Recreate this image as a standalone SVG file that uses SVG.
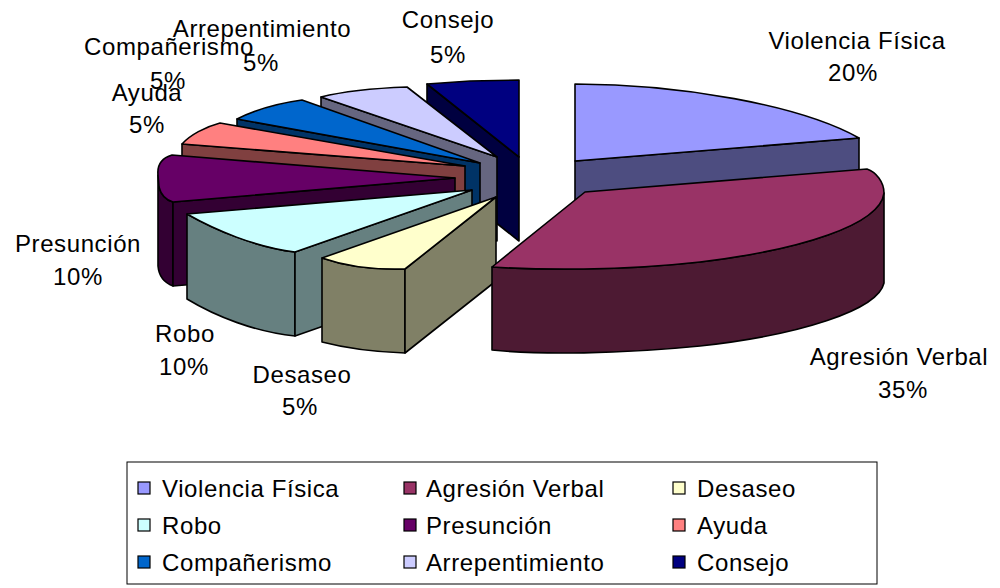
<svg xmlns="http://www.w3.org/2000/svg" width="1000" height="588" viewBox="0 0 1000 588">
<style>
.e{stroke:#000;stroke-width:1.6;stroke-linejoin:round}
.t{font-family:"Liberation Sans",Arial,sans-serif;font-size:24px;letter-spacing:0.6px;fill:#000}
.c{text-anchor:middle}
.sq{stroke:#000;stroke-width:1.2}
</style>
<rect width="1000" height="588" fill="#fff"/>
<g id="consejo">
<path class="e" fill="#000040" d="M427,84 L519,157 L519,241 L427,168 Z"/>
<path class="e" fill="#000080" d="M519,157 L427,84 L470,81 L519,80 Z"/>
</g>
<g id="arrepentimiento">
<path class="e" fill="#666680" d="M321,97 L497,157 L497,241 L321,181 Z"/>
<path class="e" fill="#CCCCFF" d="M497,157 L321,97 C345,91 380,88 407,87 Z"/>
</g>
<g id="companerismo">
<path class="e" fill="#003366" d="M237,119 L480,163 L480,247 L237,203 Z"/>
<path class="e" fill="#0066CC" d="M480,163 L237,119 C255,110 280,103 302,100 Z"/>
</g>
<g id="ayuda">
<path class="e" fill="#804040" d="M182,144 L465,166 L465,250 L182,228 Z"/>
<path class="e" fill="#FF8080" d="M465,166 L182,144 C190,135 205,127 220,123 Z"/>
</g>
<g id="presuncion">
<path class="e" fill="#330033" d="M158,175 L158,266 C159,278 165,283 173,286 L173,202 C166,200 161,195 159,187 Z"/>
<path class="e" fill="#330033" d="M173,202 L455,178 L455,262 L173,286 Z"/>
<path class="e" fill="#660066" d="M455,178 L172,155 C162,158 157,165 158,175 L159,187 C161,195 166,200 173,202 Z"/>
</g>
<g id="violencia">
<path class="e" fill="#4D4D80" d="M575,161 L859,138 L859,222 L575,245 Z"/>
<path class="e" fill="#9999FF" d="M575,161 L575,84 C680,84 800,105 859,138 Z"/>
</g>
<g id="robo">
<path class="e" fill="#668080" d="M187,214 C215,230 255,247 295,252 L295,336 C255,332 215,316 187,299 Z"/>
<path class="e" fill="#668080" d="M295,252 L472,190 L472,274 L295,336 Z"/>
<path class="e" fill="#CCFFFF" d="M472,190 L187,214 C215,230 255,247 295,252 Z"/>
</g>
<g id="desaseo">
<path class="e" fill="#808066" d="M322,258 C345,266 375,270 405,269 L405,353 C375,352 345,348 322,342 Z"/>
<path class="e" fill="#808066" d="M405,269 L496,197 L496,281 L405,353 Z"/>
<path class="e" fill="#FFFFCC" d="M496,197 L322,258 C345,266 375,270 405,269 Z"/>
</g>
<g id="agresion">
<path class="e" fill="#4D1A33" d="M884,193 C880,225 800,250 700,262 C620,271 540,270 492,267 L492,350 C540,355 620,354 700,346 C800,335 878,310 884,283 Z"/>
<path class="e" fill="#993366" d="M585,192 L867,169 C876,172 884,182 884,193 C880,225 800,250 700,262 C620,271 540,270 492,267 Z"/>
</g>
<g id="labels" class="t c">
<text x="857" y="49">Violencia Física</text>
<text x="853" y="81">20%</text>
<text x="899" y="365">Agresión Verbal</text>
<text x="903" y="398">35%</text>
<text x="302" y="383">Desaseo</text>
<text x="300" y="415">5%</text>
<text x="185" y="342">Robo</text>
<text x="184" y="375">10%</text>
<text x="78" y="252">Presunción</text>
<text x="78" y="285">10%</text>
<text x="147" y="101">Ayuda</text>
<text x="147" y="133">5%</text>
<text x="169" y="55">Compañerismo</text>
<text x="168" y="89">5%</text>
<text x="262" y="37">Arrepentimiento</text>
<text x="261" y="71">5%</text>
<text x="448" y="28">Consejo</text>
<text x="448" y="63">5%</text>
</g>
<g id="legend">
<rect x="127" y="462" width="750" height="122" fill="#fff" stroke="#000" stroke-width="1"/>
<rect class="sq" x="138" y="482" width="12" height="12" fill="#9999FF"/>
<rect class="sq" x="404" y="482" width="12" height="12" fill="#993366"/>
<rect class="sq" x="673" y="482" width="12" height="12" fill="#FFFFCC"/>
<rect class="sq" x="138" y="519" width="12" height="12" fill="#CCFFFF"/>
<rect class="sq" x="404" y="519" width="12" height="12" fill="#660066"/>
<rect class="sq" x="673" y="519" width="12" height="12" fill="#FF8080"/>
<rect class="sq" x="138" y="556" width="12" height="12" fill="#0066CC"/>
<rect class="sq" x="404" y="556" width="12" height="12" fill="#CCCCFF"/>
<rect class="sq" x="673" y="556" width="12" height="12" fill="#000080"/>
<g class="t">
<text x="162" y="497">Violencia Física</text>
<text x="426" y="497">Agresión Verbal</text>
<text x="697" y="497">Desaseo</text>
<text x="162" y="534">Robo</text>
<text x="426" y="534">Presunción</text>
<text x="697" y="534">Ayuda</text>
<text x="162" y="571">Compañerismo</text>
<text x="426" y="571">Arrepentimiento</text>
<text x="697" y="571">Consejo</text>
</g>
</g>
</svg>
